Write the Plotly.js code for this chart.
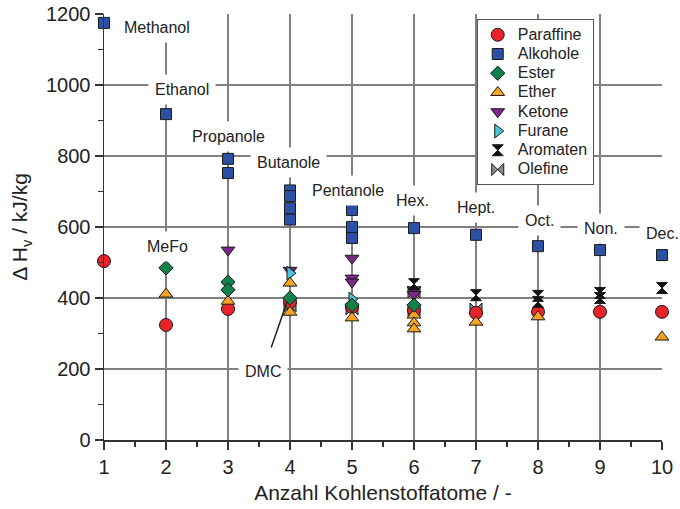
<!DOCTYPE html>
<html><head><meta charset="utf-8">
<script src="https://cdn.plot.ly/plotly-3.0.1.min.js"></script>
<style>body{margin:0;background:#fff;}#chart{width:680px;height:509px;}</style>
</head><body><div id="chart"></div>
<script>
// ---- data ----
const paraffineX = [1, 2, 3, 4, 5, 6, 7, 8, 9, 10];
const paraffineY = [504, 324, 369, 389, 375, 366, 358, 361, 361, 361];

const alkoholeX = [1, 2, 3, 3, 4, 4, 4, 4, 5, 5, 5, 6, 7, 8, 9, 10];
const alkoholeY = [1175, 918, 792, 752, 703, 687, 653, 621, 648, 600, 569, 597, 578, 546, 535, 521];

const esterX = [2, 3, 3, 4, 5, 6];
const esterY = [485, 445, 423, 400, 380, 380];

const etherX = [2, 3, 4, 4, 5, 6, 6, 6, 7, 8, 10];
const etherY = [411, 391, 442, 360, 344, 352, 330, 313, 332, 347, 290];

const ketoneX = [3, 4, 5, 5, 5, 6, 6];
const ketoneY = [535, 478, 512, 456, 445, 423, 410];

const furaneX = [4, 5];
const furaneY = [470, 397];

const aromatenX = [6, 7, 8, 8, 9, 9, 10];
const aromatenY = [439, 408, 406, 389, 414, 400, 428];

const olefineX = [4, 5, 6, 6, 7];
const olefineY = [378, 369, 417, 366, 369];

const xTickVals = [1, 2, 3, 4, 5, 6, 7, 8, 9, 10];
const yTickVals = [0, 200, 400, 600, 800, 1000, 1200];

const labelTexts = ['Methanol', 'Ethanol', 'Propanole', 'Butanole', 'Pentanole', 'Hex.', 'Hept.', 'Oct.', 'Non.', 'Dec.', 'MeFo'];

// ---- styling ----
const FONT = 'Liberation Sans, Arial, Helvetica, sans-serif';
const edge = {color: '#1a1a1a', width: 1};

function tr(name, xs, ys, symbol, color, size, rank) {
  return {
    type: 'scatter', mode: 'markers',
    name: '<span style="font-size:16px">' + name + '</span>',
    x: xs, y: ys,
    cliponaxis: false, legendrank: rank,
    marker: {symbol: symbol, color: color, size: size, line: edge}
  };
}

const traces = [
  tr('Olefine', olefineX, olefineY, 'bowtie', '#8c8c8c', 12, 8),
  tr('Paraffine', paraffineX, paraffineY, 'circle', '#e8232a', 13, 1),
  tr('Alkohole', alkoholeX, alkoholeY, 'square', '#2c50a4', 11, 2),
  tr('Ketone', ketoneX, ketoneY, 'triangle-down', '#7b2787', 12, 5),
  tr('Furane', furaneX, furaneY, 'triangle-right', '#4ec3da', 12, 6),
  tr('Ether', etherX, etherY, 'triangle-up', '#f6a324', 12, 4),
  tr('Ester', esterX, esterY, 'diamond', '#11804a', 11, 3),
  tr('Aromaten', aromatenX, aromatenY, 'hourglass', '#111111', 11, 7)
];

// label anchor positions (annotation layout)
const labelPos = [
  [1.855, 1163], [2.258, 986], [3.0, 856], [3.97, 783], [4.94, 704],
  [5.97, 676], [7.0, 654], [8.03, 617], [9.02, 597], [10.0, 583], [2.02, 546]
];

const annotations = labelTexts.map((t, i) => ({
  text: t, x: labelPos[i][0], y: labelPos[i][1], xref: 'x', yref: 'y',
  showarrow: false, bgcolor: '#ffffff', borderpad: 6,
  font: {family: FONT, size: 16, color: '#222'}
}));
annotations.push({
  text: 'DMC', x: 3.95, y: 388, xref: 'x', yref: 'y',
  ax: 3.56, ay: 192, axref: 'x', ayref: 'y',
  showarrow: true, arrowhead: 0, arrowwidth: 1.5, arrowcolor: '#222',
  startstandoff: 10, standoff: 0,
  bgcolor: '#ffffff', borderpad: 6,
  font: {family: FONT, size: 16, color: '#222'}
});

const axisCommon = {
  showline: true, linecolor: '#333', linewidth: 1.5,
  showgrid: true, gridcolor: '#808080', gridwidth: 1.5,
  zeroline: false, ticks: 'outside', ticklen: 8, tickwidth: 1.5, tickcolor: '#333',
  tickfont: {family: FONT, size: 20, color: '#222'}
};

const layout = {
  width: 680, height: 509,
  margin: {l: 104, r: 18, t: 14, b: 69},
  paper_bgcolor: '#ffffff', plot_bgcolor: '#ffffff',
  showlegend: true,
  font: {family: FONT, color: '#222'},
  xaxis: Object.assign({}, axisCommon, {
    range: [1, 10], tickvals: xTickVals,
    minor: {dtick: 0.5, ticks: 'outside', ticklen: 5, tickwidth: 1.2, tickcolor: '#333', showgrid: false},
    title: {text: 'Anzahl Kohlenstoffatome / -', font: {family: FONT, size: 21, color: '#222'}, standoff: 9}
  }),
  yaxis: Object.assign({}, axisCommon, {
    range: [0, 1200], tickvals: yTickVals,
    minor: {dtick: 100, ticks: 'outside', ticklen: 5, tickwidth: 1.2, tickcolor: '#333', showgrid: false},
    title: {text: 'Δ H<sub>v</sub> / kJ/kg', font: {family: FONT, size: 21, color: '#222'}, standoff: 12}
  }),
  legend: {
    x: 0.668, xanchor: 'left', y: 0.988, yanchor: 'top',
    bgcolor: '#ffffff', bordercolor: '#555', borderwidth: 1,
    font: {family: FONT, size: 12.5, color: '#222'},
    tracegroupgap: 0, itemwidth: 30
  },
  annotations: annotations
};

Plotly.newPlot('chart', traces, layout, {displayModeBar: false, staticPlot: true});
</script>
</body></html>
